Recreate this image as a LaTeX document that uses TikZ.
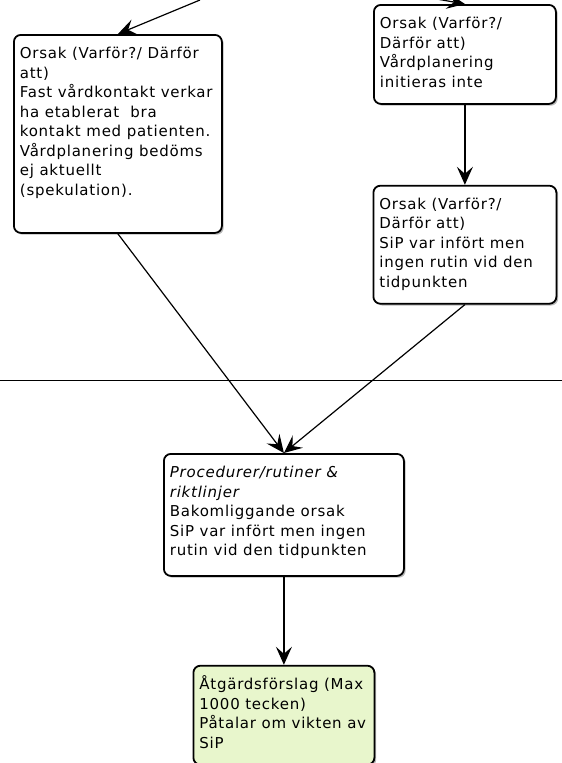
\documentclass[tikz,border=0pt]{standalone}
\usepackage{fontspec}
\newfontfamily\boxfont{DejaVu Sans}[LetterSpace=5]
\usetikzlibrary{arrows.meta,positioning,shadows}
\definecolor{forslag}{RGB}{232,246,204}
\newcommand{\boxtext}[3]{\begin{minipage}[t][#2][t]{#1}\raggedright\strut#3\end{minipage}}

\begin{document}
\begin{tikzpicture}[
    x=1pt, y=1pt,
    node distance=80pt,
    orsak/.style={draw, line width=1.8pt, rounded corners=7pt, fill=white, inner xsep=6pt, inner ysep=10pt, anchor=north west, font=\boxfont\fontsize{15}{19.5}\selectfont, drop shadow={shadow xshift=1.8pt, shadow yshift=-1.8pt, fill=black!55}},
    arr/.style={-{Stealth[length=18pt, width=16pt, inset=7pt]}, line width=1.2pt}
]
    \useasboundingbox (0,0) rectangle (562,-763);

    \node[orsak] (kontakt) at (13,-34) {\boxtext{196pt}{178pt}{Orsak (Varför?/ Därför\\ att)\\ Fast vårdkontakt verkar\\ ha etablerat~ bra\\ kontakt med patienten.\\ Vårdplanering bedöms\\ ej aktuellt\\ (spekulation).}};
    \node[orsak] (vardplan) at (373,-4) {\boxtext{170pt}{79pt}{Orsak (Varför?/\\ Därför att)\\ Vårdplanering\\ initieras inte}};
    \node[orsak, below=80pt of vardplan] (sip) {\boxtext{171pt}{98pt}{Orsak (Varför?/\\ Därför att)\\ SiP var infört men\\ ingen rutin vid den\\ tidpunkten}};
    \node[orsak] (rutin) at (163,-453) {\boxtext{228pt}{102pt}{\textit{Procedurer/rutiner \&}\\ \textit{riktlinjer}\\ Bakomliggande orsak\\ SiP var infört men ingen\\ rutin vid den tidpunkten}};
    \node[orsak, fill=forslag, below=88pt of rutin] (atgard) {\boxtext{169pt}{79pt}{Åtgärdsförslag (Max\\ 1000 tecken)\\ Påtalar om vikten av\\ SiP}};

    \coordinate (inL) at (200,0);
    \coordinate (inR) at (380,11);

    \draw[arr] (inL) -- (kontakt.north);
    \draw[arr] (inR) -- (vardplan.north);
    \draw[arr] (vardplan) -- (sip);
    \draw[arr] (kontakt.south) -- (rutin.north);
    \draw[arr] (sip.south) -- (rutin.north);
    \draw[arr] (rutin) -- (atgard);
    \draw[line width=0.8pt] (0,-380) -- (562,-380);
\end{tikzpicture}
\end{document}
